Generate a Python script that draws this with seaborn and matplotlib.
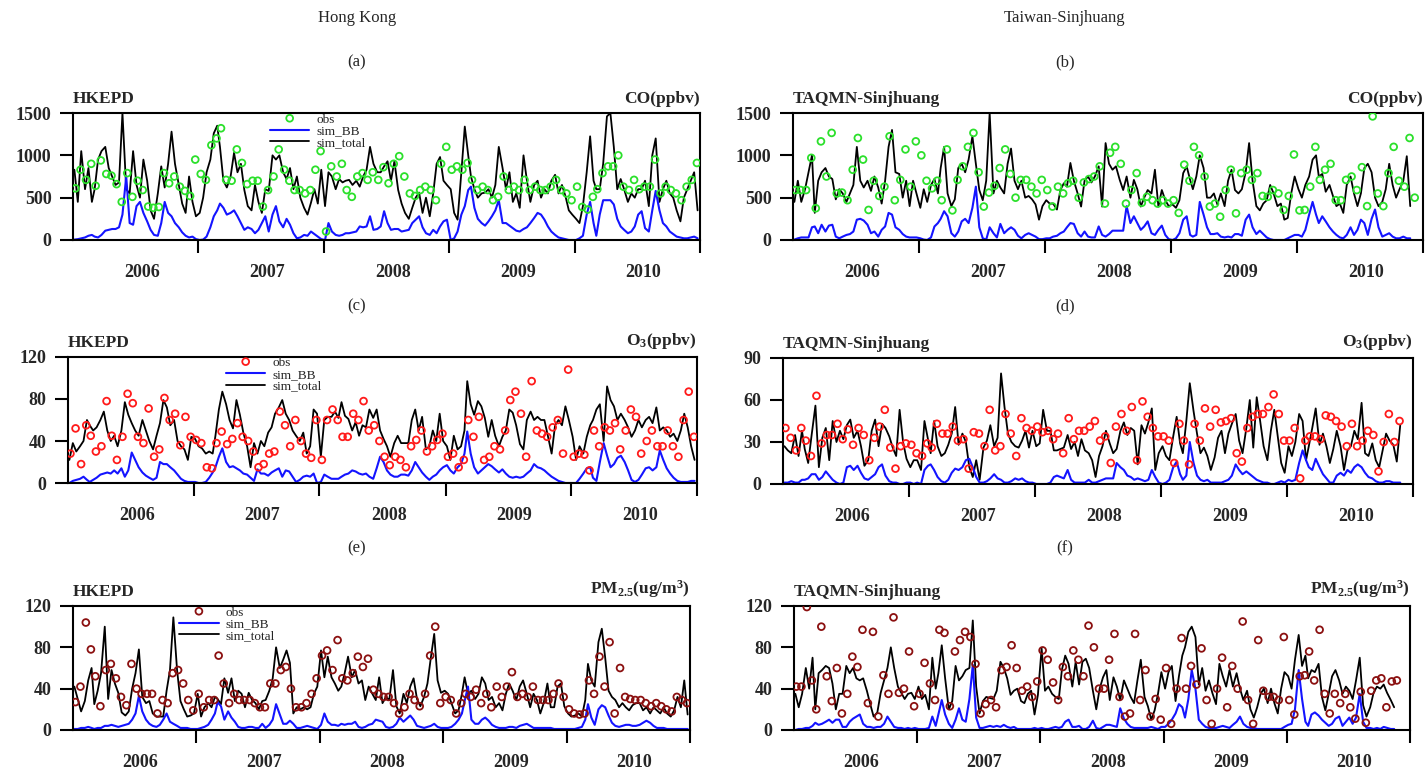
import matplotlib
matplotlib.use("Agg")
import matplotlib.pyplot as plt
import matplotlib.dates as mdates
from matplotlib.ticker import FixedLocator, NullFormatter, FixedFormatter
import numpy as np
import pandas as pd
import seaborn as sns

# ---------------------------------------------------------------- data
YEARS = [2006, 2007, 2008, 2009, 2010]
YEAR_LABELS = ["2006", "2007", "2008", "2009", "2010"]
SIM_DAYS = [5, 15, 25]      # dekadal model output
OBS_DAYS = [8, 23]          # semi-monthly observations

# ---- (a) Hong Kong CO (ppbv)
hk_co_total = (
    [830, 450, 1050, 600, 850, 450, 600, 950, 1050, 1100, 850, 750, 650, 680, 1500, 600, 550, 1050,
     650, 500, 950, 700, 350, 250, 550, 870, 620, 900, 1280, 900, 650, 430, 320, 750, 450, 280]
    + [320, 500, 800, 950, 1260, 1350, 1100, 700, 620, 750, 1030, 800, 900, 590, 400, 350, 650, 450,
       320, 600, 580, 1000, 950, 1000, 800, 720, 850, 600, 750, 500, 380, 300, 440, 600, 430, 830]
    + [400, 800, 750, 600, 720, 680, 700, 710, 650, 700, 630, 750, 830, 1100, 900, 800, 800, 870,
       930, 700, 930, 590, 430, 320, 250, 380, 500, 560, 320, 500, 280, 550, 900, 980, 700, 650]
    + [600, 320, 240, 800, 1340, 1000, 750, 600, 500, 550, 560, 600, 500, 650, 1100, 850, 600, 800,
       450, 550, 380, 1000, 700, 450, 650, 700, 500, 600, 550, 700, 770, 550, 650, 520, 350, 300]
    + [250, 200, 400, 800, 1225, 700, 600, 600, 900, 1460, 1500, 1100, 600, 720, 600, 450, 550, 500,
       600, 600, 700, 400, 1000, 1200, 450, 600, 700, 550, 500, 350, 220, 500, 600, 700, 800, 350]
)
hk_co_bb = (
    [5, 10, 20, 30, 50, 60, 40, 30, 60, 110, 120, 130, 130, 150, 300, 750, 200, 180,
     400, 450, 320, 220, 120, 60, 50, 200, 450, 320, 280, 200, 150, 90, 50, 30, 40, 10]
    + [0, 5, 40, 150, 280, 350, 430, 380, 300, 320, 350, 280, 200, 120, 150, 130, 80, 120,
       200, 280, 100, 300, 400, 220, 150, 250, 180, 80, 20, 30, 60, 50, 100, 70, 40, 10]
    + [0, 200, 100, 60, 50, 60, 80, 80, 90, 100, 160, 150, 160, 280, 120, 130, 160, 340,
       200, 120, 130, 130, 100, 110, 120, 200, 240, 280, 150, 80, 60, 120, 80, 160, 220, 240]
    + [0, 20, 100, 300, 400, 590, 630, 380, 250, 200, 170, 220, 280, 350, 470, 200, 200, 170,
       140, 110, 100, 130, 150, 200, 260, 320, 300, 240, 160, 100, 60, 30, 20, 10, 0, 0]
    + [0, 20, 50, 300, 450, 200, 50, 300, 470, 470, 470, 420, 250, 160, 120, 80, 100, 160,
       300, 340, 140, 100, 350, 580, 350, 200, 160, 100, 70, 40, 30, 20, 20, 30, 40, 20]
)
hk_co_obs = (
    [610, 830, 710, 900, 640, 940, 780, 760, 660, 450, 790, 510, 700, 590, 395, 380, 390, 790, 670, 750, 630, 580, 520, 950]
    + [780, 710, 1120, 1200, 1320, 710, 700, 1070, 910, 660, 700, 700, 395, 590, 750, 1070, 830, 700, 590, 590, 550, 590, 830, 1050]
    + [100, 870, 750, 900, 590, 510, 750, 790, 710, 800, 710, 860, 670, 900, 990, 750, 550, 520, 590, 630, 590, 470, 900, 1100]
    + [830, 870, 830, 910, 710, 590, 630, 590, 470, 510, 750, 590, 630, 590, 710, 590, 630, 590, 590, 630, 710, 590, 550, 470]
    + [630, 390, 360, 510, 600, 790, 870, 870, 1000, 630, 590, 710, 600, 630, 630, 950, 550, 630, 590, 550, 470, 630, 710, 910]
)

# ---- (b) Taiwan-Sinjhuang CO (ppbv)
tw_co_total = (
    [450, 700, 450, 600, 800, 1000, 320, 700, 800, 850, 750, 720, 480, 600, 550, 450, 550, 650,
     1100, 700, 620, 700, 580, 750, 620, 430, 700, 1100, 1300, 800, 780, 500, 700, 400, 700, 550]
    + [380, 600, 450, 650, 720, 550, 850, 1100, 550, 400, 480, 850, 900, 800, 950, 1225, 900, 590,
       470, 700, 1500, 550, 700, 620, 550, 900, 1080, 700, 600, 700, 500, 520, 480, 420, 240, 400]
    + [470, 430, 430, 360, 590, 670, 630, 910, 700, 550, 395, 700, 750, 680, 750, 870, 395, 1145,
       900, 830, 870, 710, 590, 750, 500, 710, 600, 395, 500, 590, 550, 830, 395, 590, 470, 400]
    + [420, 380, 470, 790, 870, 710, 600, 750, 1000, 850, 500, 500, 550, 420, 550, 400, 700, 830,
       590, 550, 600, 800, 1145, 700, 400, 350, 430, 470, 650, 550, 400, 430, 240, 260, 550, 750]
    + [600, 500, 650, 750, 950, 1000, 750, 780, 570, 650, 520, 400, 430, 320, 650, 750, 550, 400,
       550, 850, 900, 800, 500, 400, 450, 600, 900, 650, 500, 600, 700, 990, 400]
)
tw_co_bb = (
    [5, 20, 30, 30, 30, 150, 160, 80, 180, 100, 170, 180, 40, 20, 40, 60, 70, 100,
     240, 250, 230, 180, 80, 100, 40, 120, 160, 320, 300, 150, 120, 70, 40, 30, 30, 30]
    + [20, 5, 0, 30, 160, 200, 250, 340, 280, 80, 40, 100, 220, 250, 200, 380, 630, 150,
       20, 5, 150, 80, 30, 190, 80, 120, 150, 120, 50, 20, 60, 80, 60, 40, 10, 10]
    + [20, 20, 40, 50, 80, 100, 150, 200, 190, 80, 40, 100, 40, 30, 30, 160, 60, 40,
       70, 110, 110, 110, 110, 400, 200, 280, 200, 120, 160, 220, 80, 60, 120, 170, 60, 10]
    + [0, 20, 80, 240, 280, 60, 40, 60, 450, 300, 150, 70, 70, 80, 40, 30, 40, 30,
       70, 70, 50, 240, 300, 150, 70, 110, 70, 30, 10, 0, 0, 0, 0, 20, 40, 60]
    + [60, 40, 120, 300, 450, 300, 200, 280, 220, 150, 100, 60, 30, 20, 60, 150, 60, 120,
       240, 200, 60, 250, 360, 150, 40, 60, 80, 40, 20, 20, 40, 20, 20]
)
tw_co_obs = (
    [590, 590, 590, 970, 375, 1165, 750, 1265, 550, 560, 470, 830, 1205, 950, 355, 700, 520, 630, 1225, 470, 710, 1070, 630, 1165]
    + [1000, 700, 610, 700, 470, 1070, 350, 710, 870, 1100, 1265, 800, 395, 560, 640, 850, 1070, 780, 500, 710, 710, 630, 550, 710]
    + [590, 395, 630, 550, 670, 700, 500, 680, 720, 750, 870, 430, 1030, 1100, 900, 430, 590, 790, 440, 510, 470, 430, 470, 430]
    + [470, 320, 890, 700, 1100, 1000, 750, 395, 430, 275, 590, 830, 315, 790, 830, 710, 790, 520, 510, 590, 550, 355, 520, 1010]
    + [350, 355, 630, 1100, 710, 830, 900, 470, 470, 710, 750, 590, 860, 400, 1460, 550, 400, 790, 1100, 700, 630, 1205, 500]
)

# ---- (c) Hong Kong O3 (ppbv)
hk_o3_total = (
    [22, 38, 30, 35, 40, 60, 55, 50, 53, 60, 68, 50, 40, 45, 35, 50, 77, 65,
     57, 50, 45, 60, 50, 40, 32, 45, 57, 79, 72, 55, 60, 40, 35, 32, 22, 44]
    + [42, 35, 33, 28, 30, 28, 45, 70, 87, 75, 60, 52, 79, 65, 48, 35, 15, 38,
       28, 40, 35, 48, 53, 66, 72, 79, 66, 60, 50, 45, 40, 48, 28, 35, 70, 66]
    + [25, 60, 63, 63, 68, 62, 77, 64, 61, 50, 58, 45, 55, 53, 70, 62, 70, 50,
       42, 35, 25, 38, 45, 38, 38, 38, 60, 70, 50, 63, 32, 35, 50, 40, 66, 40]
    + [35, 22, 45, 32, 35, 50, 97, 75, 65, 78, 73, 62, 44, 60, 45, 35, 44, 50,
       70, 67, 55, 37, 32, 60, 68, 60, 63, 60, 60, 45, 28, 55, 60, 55, 73, 60]
    + [44, 22, 35, 28, 44, 55, 60, 70, 75, 40, 92, 79, 73, 60, 66, 60, 53, 44,
       50, 60, 53, 60, 63, 57, 72, 50, 53, 50, 44, 47, 40, 50, 66, 53, 35, 22]
)
hk_o3_bb = (
    [0, 2, 3, 4, 6, 3, 1, 3, 5, 8, 9, 10, 9, 12, 9, 14, 6, 12, 29, 22, 15, 10, 7, 5, 3, 5, 20, 18, 18, 15, 12, 8, 4, 2, 1, 1]
    + [1, 0, 0, 1, 5, 10, 15, 25, 33, 20, 15, 16, 14, 12, 9, 8, 5, 2, 13, 9, 9, 7, 10, 12, 14, 6, 12, 11, 6, 1, 3, 6, 7, 6, 9, 0]
    + [1, 8, 6, 4, 4, 4, 6, 8, 9, 12, 11, 9, 8, 9, 6, 4, 14, 25, 20, 12, 8, 6, 6, 8, 8, 7, 12, 20, 15, 10, 6, 3, 6, 8, 12, 15]
    + [17, 12, 9, 15, 18, 28, 49, 28, 15, 9, 12, 15, 18, 16, 13, 10, 13, 9, 6, 5, 6, 5, 6, 9, 12, 18, 15, 14, 12, 9, 6, 4, 2, 1, 0, 0]
    + [0, 0, 4, 9, 14, 15, 5, 2, 20, 38, 26, 15, 18, 24, 26, 20, 12, 3, 1, 3, 8, 14, 15, 12, 15, 31, 22, 14, 9, 5, 2, 1, 1, 1, 2, 2]
)
hk_o3_obs = (
    [28, 52, 18, 55, 45, 30, 35, 78, 45, 22, 44, 85, 76, 44, 38, 71, 25, 32, 81, 60, 66, 36, 63, 44]
    + [41, 38, 15, 14, 38, 49, 37, 42, 57, 44, 40, 30, 15, 18, 28, 30, 68, 55, 35, 60, 40, 28, 24, 60]
    + [22, 60, 70, 60, 44, 44, 66, 60, 78, 50, 55, 40, 25, 17, 25, 22, 15, 35, 41, 50, 30, 35, 41, 47]
    + [25, 28, 15, 22, 60, 44, 63, 22, 25, 35, 32, 50, 79, 87, 66, 25, 97, 50, 47, 44, 53, 60, 28, 108]
    + [25, 28, 27, 12, 50, 35, 53, 50, 57, 32, 50, 70, 63, 28, 40, 50, 35, 35, 50, 35, 25, 60, 87, 44]
)

# ---- (d) Taiwan-Sinjhuang O3 (ppbv)
tw_o3_total = (
    [27, 24, 22, 35, 20, 38, 25, 15, 35, 56, 12, 33, 40, 17, 45, 30, 38, 32,
     42, 46, 33, 38, 27, 13, 17, 38, 46, 27, 43, 40, 34, 26, 20, 53, 30, 18]
    + [12, 17, 17, 10, 45, 32, 22, 45, 27, 20, 22, 28, 36, 55, 28, 36, 30, 12,
       5, 17, 3, 26, 31, 42, 27, 33, 79, 55, 36, 30, 27, 26, 31, 38, 26, 38]
    + [27, 29, 53, 38, 38, 24, 24, 25, 26, 35, 25, 30, 20, 32, 24, 22, 17, 5,
       20, 27, 38, 29, 22, 25, 38, 44, 35, 40, 38, 14, 42, 36, 44, 54, 10, 22]
    + [27, 20, 17, 34, 48, 29, 22, 45, 72, 52, 36, 22, 26, 20, 10, 19, 33, 38,
       22, 36, 43, 50, 31, 22, 40, 60, 26, 62, 45, 27, 17, 38, 53, 34, 15, 8]
    + [27, 20, 30, 50, 45, 17, 27, 40, 54, 28, 36, 27, 15, 25, 38, 27, 10, 24,
       27, 38, 32, 58, 22, 20, 29, 17, 12, 24, 36, 31, 28, 16, 42]
)
tw_o3_bb = (
    [1, 1, 2, 1, 1, 3, 3, 4, 7, 7, 3, 5, 9, 6, 3, 1, 0, 1, 12, 13, 10, 13, 8, 4, 3, 5, 7, 12, 14, 6, 2, 1, 1, 0, 0, 1]
    + [1, 0, 1, 0, 10, 13, 14, 10, 5, 2, 1, 3, 8, 11, 10, 12, 17, 18, 12, 5, 1, 1, 2, 4, 7, 4, 3, 1, 1, 2, 4, 3, 4, 2, 1, 1]
    + [0, 0, 0, 0, 1, 5, 6, 5, 4, 10, 3, 1, 1, 1, 1, 3, 1, 1, 2, 3, 4, 4, 4, 15, 12, 10, 6, 5, 3, 4, 3, 2, 3, 10, 5, 1]
    + [0, 1, 3, 12, 16, 7, 3, 6, 30, 15, 6, 3, 2, 3, 1, 1, 1, 1, 2, 3, 6, 14, 10, 7, 9, 7, 5, 3, 2, 1, 1, 0, 0, 1, 2, 1]
    + [3, 2, 3, 15, 24, 17, 12, 10, 18, 12, 7, 4, 1, 1, 6, 8, 6, 10, 8, 12, 14, 12, 8, 5, 4, 2, 1, 1, 2, 2, 1, 1, 1]
)
tw_o3_obs = (
    [40, 33, 24, 40, 31, 20, 63, 29, 35, 35, 43, 32, 39, 28, 40, 35, 17, 33, 41, 53, 26, 11, 27, 29]
    + [28, 22, 20, 29, 26, 43, 36, 36, 41, 31, 32, 11, 37, 36, 27, 53, 24, 27, 50, 36, 20, 47, 40, 38]
    + [41, 37, 38, 32, 36, 22, 47, 32, 38, 38, 41, 45, 31, 34, 15, 41, 50, 38, 55, 17, 59, 48, 40, 34]
    + [34, 31, 15, 43, 31, 14, 43, 31, 54, 41, 53, 44, 45, 47, 22, 16, 40, 48, 50, 50, 55, 64, 50, 31]
    + [31, 40, 4, 31, 34, 34, 32, 49, 48, 45, 41, 27, 43, 27, 31, 38, 35, 9, 30, 50, 30, 45]
)

# ---- (e) Hong Kong PM2.5 (ug/m3)
hk_pm_total = (
    [42, 30, 18, 28, 48, 60, 25, 38, 55, 100, 30, 58, 45, 36, 17, 14, 18, 40,
     55, 78, 32, 26, 28, 16, 13, 13, 13, 38, 58, 109, 58, 28, 20, 13, 14, 16]
    + [35, 13, 22, 26, 22, 32, 30, 25, 50, 36, 50, 28, 38, 35, 22, 36, 29, 26,
       20, 28, 29, 38, 50, 80, 60, 68, 77, 65, 16, 22, 20, 22, 20, 22, 35, 42]
    + [77, 51, 71, 51, 45, 38, 42, 55, 71, 51, 58, 45, 48, 29, 42, 35, 29, 51,
       26, 32, 29, 58, 23, 16, 35, 26, 42, 50, 30, 23, 32, 45, 70, 93, 48, 36]
    + [38, 35, 26, 16, 19, 35, 51, 35, 38, 30, 35, 51, 45, 29, 32, 22, 26, 19,
       35, 45, 38, 29, 42, 48, 35, 22, 35, 29, 16, 26, 45, 22, 22, 42, 45, 23]
    + [16, 13, 14, 16, 13, 29, 64, 48, 42, 85, 98, 70, 38, 32, 29, 22, 26, 22,
       19, 24, 26, 26, 19, 22, 16, 22, 19, 16, 22, 16, 13, 19, 32, 22, 48, 15]
)
hk_pm_bb = (
    [1, 1, 2, 2, 3, 2, 1, 2, 2, 4, 4, 5, 4, 3, 4, 5, 6, 10, 16, 33, 18, 10, 6, 4, 3, 5, 10, 16, 8, 6, 4, 2, 2, 2, 1, 1]
    + [1, 2, 3, 5, 10, 16, 27, 23, 10, 18, 12, 8, 3, 2, 2, 3, 3, 2, 2, 6, 2, 5, 10, 25, 15, 6, 6, 9, 6, 2, 2, 3, 4, 3, 2, 1]
    + [5, 16, 8, 5, 5, 4, 6, 5, 6, 6, 8, 3, 2, 3, 5, 6, 10, 9, 8, 3, 2, 3, 6, 12, 8, 11, 14, 10, 4, 3, 2, 3, 4, 6, 3, 2]
    + [2, 2, 3, 6, 10, 16, 28, 42, 10, 6, 6, 10, 12, 9, 5, 3, 2, 2, 2, 3, 3, 2, 4, 5, 6, 4, 2, 2, 2, 2, 2, 2, 1, 1, 1, 1]
    + [1, 1, 1, 2, 3, 10, 25, 12, 5, 20, 24, 22, 14, 7, 4, 3, 4, 5, 5, 4, 4, 5, 7, 9, 7, 4, 2, 2, 2, 1, 1, 1, 1, 1, 1, 1]
)
hk_pm_obs = (
    [27, 42, 104, 78, 52, 23, 58, 64, 50, 32, 24, 64, 40, 35, 35, 35, 16, 29, 26, 55, 58, 45, 29, 19]
    + [35, 22, 29, 29, 72, 45, 26, 35, 29, 29, 29, 26, 22, 22, 45, 45, 58, 61, 40, 22, 22, 26, 35, 50]
    + [72, 77, 58, 87, 50, 48, 55, 71, 61, 69, 39, 35, 32, 32, 26, 16, 22, 35, 29, 23, 35, 72, 100, 26]
    + [32, 29, 16, 26, 35, 32, 39, 26, 35, 22, 42, 32, 42, 56, 32, 35, 32, 42, 29, 29, 29, 35, 45, 32]
    + [20, 16, 15, 16, 48, 35, 71, 42, 85, 16, 60, 32, 30, 29, 29, 26, 23, 26, 23, 20, 18, 32, 29, 26]
)

# ---- (f) Taiwan-Sinjhuang PM2.5 (ug/m3)
tw_pm_total = (
    [35, 22, 35, 60, 40, 70, 20, 55, 58, 62, 60, 45, 20, 35, 35, 62, 55, 60,
     50, 48, 50, 38, 25, 13, 17, 36, 48, 60, 80, 60, 42, 36, 30, 35, 36, 30]
    + [42, 30, 34, 20, 70, 40, 55, 82, 50, 20, 28, 62, 48, 52, 58, 60, 106, 42,
       16, 28, 32, 31, 30, 38, 66, 60, 50, 34, 38, 40, 28, 26, 35, 38, 15, 34]
    + [79, 38, 42, 35, 32, 30, 58, 72, 64, 42, 66, 44, 66, 69, 60, 38, 20, 40,
       51, 58, 29, 51, 42, 29, 48, 40, 32, 26, 48, 68, 32, 23, 10, 19, 35, 56]
    + [40, 56, 62, 28, 52, 72, 80, 95, 100, 90, 44, 60, 38, 48, 36, 25, 64, 52,
       42, 58, 42, 55, 40, 29, 38, 20, 12, 22, 35, 40, 26, 40, 26, 16, 40, 56]
    + [52, 40, 68, 92, 62, 72, 50, 58, 56, 64, 32, 19, 35, 52, 58, 48, 35, 42,
       38, 30, 48, 70, 24, 13, 22, 36, 42, 40, 44, 36, 29, 22]
)
tw_pm_bb = (
    [0, 1, 1, 2, 2, 4, 7, 5, 6, 8, 10, 7, 10, 10, 3, 3, 8, 11, 13, 15, 6, 3, 3, 2, 3, 3, 6, 13, 8, 3, 2, 2, 1, 2, 1, 2]
    + [1, 1, 1, 2, 13, 4, 15, 29, 15, 6, 2, 10, 21, 10, 8, 30, 63, 12, 2, 2, 3, 4, 3, 4, 3, 5, 3, 2, 3, 1, 1, 1, 1, 1, 2, 1]
    + [2, 1, 1, 2, 3, 2, 3, 8, 10, 3, 3, 4, 1, 1, 3, 9, 2, 1, 3, 5, 5, 4, 3, 21, 11, 6, 3, 2, 2, 2, 2, 2, 3, 2, 1, 3]
    + [3, 6, 10, 16, 25, 22, 12, 30, 58, 40, 10, 6, 3, 2, 2, 2, 3, 4, 3, 2, 5, 8, 13, 6, 3, 2, 2, 1, 1, 1, 1, 1, 1, 1, 1, 3]
    + [5, 6, 20, 58, 30, 8, 4, 15, 17, 14, 10, 7, 4, 6, 11, 13, 4, 8, 12, 6, 12, 35, 8, 2, 2, 1, 2, 1, 3, 2, 1, 1]
)
tw_pm_obs = (
    [42, 42, 119, 48, 20, 100, 52, 28, 60, 16, 35, 71, 61, 97, 26, 95, 13, 53, 35, 109, 36, 40, 76, 23]
    + [35, 65, 45, 29, 97, 94, 23, 76, 87, 95, 90, 64, 16, 25, 29, 22, 58, 61, 82, 60, 38, 42, 32, 47]
    + [77, 68, 46, 29, 61, 52, 77, 68, 52, 101, 80, 40, 40, 68, 93, 32, 13, 16, 93, 29, 58, 13, 30, 10]
    + [60, 6, 40, 89, 40, 62, 44, 79, 29, 6, 40, 70, 22, 62, 40, 105, 29, 6, 87, 38, 32, 32, 29, 90]
    + [29, 15, 52, 53, 76, 48, 97, 35, 16, 35, 26, 35, 22, 11, 37, 7, 38, 48, 50, 22, 47, 48]
)

CO_TICKS = [0, 500, 1000, 1500]
O3_HK_TICKS = [0, 40, 80, 120]
O3_TW_TICKS = [0, 30, 60, 90]
PM_TICKS = [0, 40, 80, 120]

# ---------------------------------------------------------------- style
sns.set_style("ticks")
plt.rcParams["font.family"] = ["Liberation Serif", "DejaVu Serif"]
plt.rcParams["mathtext.fontset"] = "custom"
plt.rcParams["mathtext.rm"] = "Liberation Serif"
plt.rcParams["mathtext.bf"] = "Liberation Serif:bold"
plt.rcParams["mathtext.default"] = "bf"

SIM_DATES = pd.to_datetime([f"{y}-{m:02d}-{d:02d}" for y in YEARS for m in range(1, 13) for d in SIM_DAYS])
OBS_DATES = pd.to_datetime([f"{y}-{m:02d}-{d:02d}" for y in YEARS for m in range(1, 13) for d in OBS_DAYS])
YEAR_BOUNDS = [mdates.date2num(pd.Timestamp(f"{y + 1}-01-01")) for y in YEARS]
YEAR_LABEL_POS = [mdates.date2num(pd.Timestamp(f"{y}-07-20")) for y in YEARS]

C_GREEN = "#2be02b"
C_RED = "#ff1a1a"
C_DARKRED = "#8b1010"
C_BLUE = "#1414ff"

W, H = 1428, 773
fig = plt.figure(figsize=(W / 100, H / 100), dpi=100)


def rect(l, t, r, b):
    return [l / W, 1 - b / H, (r - l) / W, (b - t) / H]


panels = [
    dict(rect=rect(73, 113, 700, 240), total=hk_co_total, bb=hk_co_bb, obs=hk_co_obs, color=C_GREEN,
         ticks=CO_TICKS, station="HKEPD", species="CO(ppbv)", legend=(0.314, 0.995)),
    dict(rect=rect(793, 113, 1423, 240), total=tw_co_total, bb=tw_co_bb, obs=tw_co_obs, color=C_GREEN,
         ticks=CO_TICKS, station="TAQMN-Sinjhuang", species="CO(ppbv)", legend=None),
    dict(rect=rect(68, 357, 697, 483), total=hk_o3_total, bb=hk_o3_bb, obs=hk_o3_obs, color=C_RED,
         ticks=O3_HK_TICKS, station="HKEPD", species="O$_3$(ppbv)", legend=(0.251, 1.0)),
    dict(rect=rect(783, 358, 1413, 484), total=tw_o3_total, bb=tw_o3_bb, obs=tw_o3_obs, color=C_RED,
         ticks=O3_TW_TICKS, station="TAQMN-Sinjhuang", species="O$_3$(ppbv)", legend=None),
    dict(rect=rect(73, 606, 690, 730), total=hk_pm_total, bb=hk_pm_bb, obs=hk_pm_obs, color=C_DARKRED,
         ticks=PM_TICKS, station="HKEPD", species="PM$_{2.5}$(ug/m$^3$)", legend=(0.172, 0.995)),
    dict(rect=rect(794, 606, 1410, 730), total=tw_pm_total, bb=tw_pm_bb, obs=tw_pm_obs, color=C_DARKRED,
         ticks=PM_TICKS, station="TAQMN-Sinjhuang", species="PM$_{2.5}$(ug/m$^3$)", legend=None),
]

for p in panels:
    ax = fig.add_axes(p["rect"])
    lab = p["legend"] is not None
    sns.lineplot(x=SIM_DATES[:len(p["total"])], y=p["total"], ax=ax, color="black",
                 linewidth=1.3, label="sim_total" if lab else None, zorder=2)
    sns.lineplot(x=SIM_DATES[:len(p["bb"])], y=p["bb"], ax=ax, color=C_BLUE,
                 linewidth=1.5, label="sim_BB" if lab else None, zorder=2)
    sns.scatterplot(x=OBS_DATES[:len(p["obs"])], y=p["obs"], ax=ax, marker="o", s=24,
                    color=p["color"], facecolor="none", edgecolor=p["color"], linewidth=1.3,
                    label="obs" if lab else None, zorder=3)

    ax.set_xlim(pd.Timestamp("2006-01-01"), pd.Timestamp("2011-01-01"))
    ax.set_ylim(p["ticks"][0], p["ticks"][-1])
    ax.set_xlabel("")
    ax.set_ylabel("")

    ax.xaxis.set_major_locator(FixedLocator(YEAR_BOUNDS))
    ax.xaxis.set_major_formatter(NullFormatter())
    ax.xaxis.set_minor_locator(FixedLocator(YEAR_LABEL_POS))
    ax.xaxis.set_minor_formatter(FixedFormatter(YEAR_LABELS))
    ax.tick_params(axis="x", which="major", direction="out", length=9.5, width=1.5, color="black")
    ax.tick_params(axis="x", which="minor", length=0, pad=17, labelsize=13)
    for t in ax.get_xticklabels(minor=True):
        t.set_fontweight("bold")

    ax.set_yticks(p["ticks"])
    ax.set_yticklabels([str(v) for v in p["ticks"]], fontweight="bold", fontsize=13)
    ax.tick_params(axis="y", direction="out", length=9.5, width=1.5, pad=6, color="black")

    for s in ax.spines.values():
        s.set_visible(True)
        s.set_linewidth(1.5)
        s.set_color("black")

    ax.annotate(p["station"], xy=(0, 1), xycoords="axes fraction", xytext=(0, 4),
                textcoords="offset points", ha="left", va="bottom", fontsize=12.5, fontweight="bold")
    ax.annotate(p["species"], xy=(1, 1), xycoords="axes fraction", xytext=(0, 4),
                textcoords="offset points", ha="right", va="bottom", fontsize=12.5, fontweight="bold")

    if lab:
        handles, labels = ax.get_legend_handles_labels()
        order = [labels.index(k) for k in ("obs", "sim_BB", "sim_total")]
        ax.legend([handles[i] for i in order], [labels[i] for i in order],
                  loc="upper left", bbox_to_anchor=p["legend"], frameon=False,
                  fontsize=9.5, handlelength=3.0, handletextpad=0.55, labelspacing=-0.05,
                  borderpad=0.0, borderaxespad=0.0, scatterpoints=1, scatteryoffsets=[0.5])
    elif ax.get_legend() is not None:
        ax.get_legend().remove()

# column titles and panel letters
fig.text(357 / W, 1 - 18 / H, "Hong Kong", ha="center", va="center", fontsize=12)
fig.text(1065 / W, 1 - 18 / H, "Taiwan-Sinjhuang", ha="center", va="center", fontsize=12)
for letter, (x, y) in zip("abcdef", [(357, 62), (1065, 62), (357, 306), (1065, 306), (357, 548), (1065, 548)]):
    fig.text(x / W, 1 - y / H, f"({letter})", ha="center", va="center", fontsize=12)

fig.savefig("out.png", dpi=100)
